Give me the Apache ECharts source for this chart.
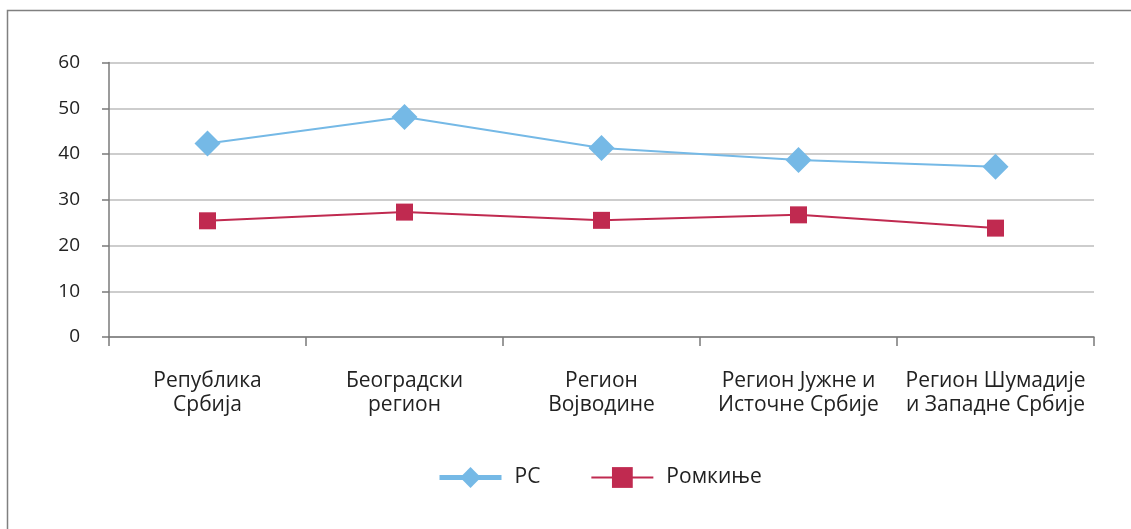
<!DOCTYPE html>
<html>
<head>
<meta charset="utf-8">
<script src="https://cdn.jsdelivr.net/npm/echarts@6/dist/echarts.min.js"></script>
<style>
html,body{margin:0;padding:0;background:#fff;}
#c{width:1131px;height:529px;}
</style>
</head>
<body>
<div id="c"></div>
<script>
const categories = ['Република\nСрбија', 'Београдски\nрегион', 'Регион\nВојводине', 'Регион Јужне и\nИсточне Србије', 'Регион Шумадије\nи Западне Србије'];
const seriesNames = ['РС', 'Ромкиње'];
const rsValues = [42.3, 48.1, 41.3, 38.7, 37.2];
const romValues = [25.4, 27.3, 25.5, 26.7, 23.8];
const yTicks = [0, 10, 20, 30, 40, 50, 60];

const FONT = '"Open Sans", "Noto Sans", sans-serif';
const chart = echarts.init(document.getElementById('c'), null, {renderer: 'canvas'});
chart.setOption({
  backgroundColor: '#ffffff',
  animation: false,
  graphic: [{
    type: 'rect',
    shape: {x: 7.5, y: 10.5, width: 1140, height: 540},
    style: {fill: 'none', stroke: '#808080', lineWidth: 1.5},
    silent: true
  }],
  grid: {left: 109, right: 37, top: 62.5, bottom: 192, containLabel: false},
  legend: {
    data: [
      {name: seriesNames[0], lineStyle: {width: 5, color: '#75b9e6'}},
      {name: seriesNames[1], lineStyle: {width: 2, color: '#c02a50'}}
    ],
    left: 437,
    top: 467,
    padding: 0,
    itemWidth: 62,
    itemHeight: 26,
    itemGap: 50,
    textStyle: {fontFamily: FONT, fontSize: 21, color: '#222', padding: [0, 0, 0, 8]}
  },
  xAxis: {
    type: 'category',
    data: categories,
    boundaryGap: true,
    axisLine: {lineStyle: {color: '#7a7a7a', width: 1.5}},
    axisTick: {show: true, length: 9, lineStyle: {color: '#7a7a7a', width: 1.5}},
    axisLabel: {fontFamily: FONT, fontSize: 21, color: '#222', margin: 32, lineHeight: 24, interval: 0}
  },
  yAxis: {
    type: 'value',
    min: yTicks[0],
    max: yTicks[yTicks.length - 1],
    interval: 10,
    axisLine: {show: true, lineStyle: {color: '#7a7a7a', width: 1.5}},
    axisTick: {show: true, length: 7, lineStyle: {color: '#7a7a7a', width: 1.5}},
    splitLine: {lineStyle: {color: '#bdbdbd', width: 1.5}},
    axisLabel: {fontFamily: FONT, fontSize: 19, color: '#222', margin: 29, padding: [6, 0, 0, 0]}
  },
  series: [
    {
      name: seriesNames[0],
      type: 'line',
      data: rsValues,
      symbol: 'diamond',
      symbolSize: 26,
      lineStyle: {color: '#75b9e6', width: 2},
      itemStyle: {color: '#75b9e6'},
      z: 3
    },
    {
      name: seriesNames[1],
      type: 'line',
      data: romValues,
      symbol: 'rect',
      symbolSize: 17,
      lineStyle: {color: '#c02a50', width: 2},
      itemStyle: {color: '#c02a50'},
      z: 2
    }
  ]
});
</script>
</body>
</html>
